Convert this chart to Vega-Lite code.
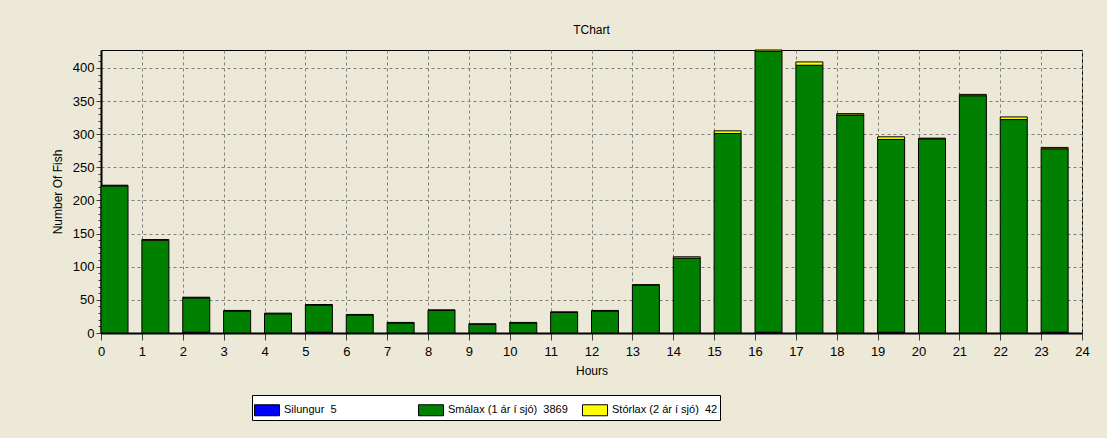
{
  "$schema": "https://vega.github.io/schema/vega-lite/v6.json",
  "width": 981,
  "height": 283,
  "autosize": {"type": "none"},
  "padding": {"left": 101, "top": 50, "right": 25, "bottom": 105},
  "background": "#ECE9D8",
  "title": {"text": "TChart", "fontSize": 12, "font": "Liberation Sans", "fontWeight": "normal", "color": "#000000", "offset": 12},
  "config": {
    "view": {"stroke": "#000000", "strokeWidth": 1, "fill": "#ECE9D8"}
  },
  "data": {"values": [
    {"hour": 0, "species": "Smálax (1 ár í sjó)", "n": 222},
    {"hour": 1, "species": "Smálax (1 ár í sjó)", "n": 140},
    {"hour": 2, "species": "Smálax (1 ár í sjó)", "n": 52},
    {"hour": 3, "species": "Smálax (1 ár í sjó)", "n": 33},
    {"hour": 4, "species": "Smálax (1 ár í sjó)", "n": 29},
    {"hour": 5, "species": "Smálax (1 ár í sjó)", "n": 41},
    {"hour": 6, "species": "Smálax (1 ár í sjó)", "n": 27},
    {"hour": 7, "species": "Smálax (1 ár í sjó)", "n": 15},
    {"hour": 8, "species": "Smálax (1 ár í sjó)", "n": 34},
    {"hour": 9, "species": "Smálax (1 ár í sjó)", "n": 13},
    {"hour": 10, "species": "Smálax (1 ár í sjó)", "n": 15},
    {"hour": 11, "species": "Smálax (1 ár í sjó)", "n": 31},
    {"hour": 12, "species": "Smálax (1 ár í sjó)", "n": 33},
    {"hour": 13, "species": "Smálax (1 ár í sjó)", "n": 72},
    {"hour": 14, "species": "Smálax (1 ár í sjó)", "n": 113},
    {"hour": 15, "species": "Smálax (1 ár í sjó)", "n": 301},
    {"hour": 16, "species": "Smálax (1 ár í sjó)", "n": 424},
    {"hour": 17, "species": "Smálax (1 ár í sjó)", "n": 404},
    {"hour": 18, "species": "Smálax (1 ár í sjó)", "n": 329},
    {"hour": 19, "species": "Smálax (1 ár í sjó)", "n": 291},
    {"hour": 20, "species": "Smálax (1 ár í sjó)", "n": 293},
    {"hour": 21, "species": "Smálax (1 ár í sjó)", "n": 358},
    {"hour": 22, "species": "Smálax (1 ár í sjó)", "n": 322},
    {"hour": 23, "species": "Smálax (1 ár í sjó)", "n": 277},
    {"hour": 0, "species": "Stórlax (2 ár í sjó)", "n": 1},
    {"hour": 1, "species": "Stórlax (2 ár í sjó)", "n": 1},
    {"hour": 2, "species": "Stórlax (2 ár í sjó)", "n": 1},
    {"hour": 3, "species": "Stórlax (2 ár í sjó)", "n": 1},
    {"hour": 4, "species": "Stórlax (2 ár í sjó)", "n": 1},
    {"hour": 5, "species": "Stórlax (2 ár í sjó)", "n": 1},
    {"hour": 6, "species": "Stórlax (2 ár í sjó)", "n": 1},
    {"hour": 7, "species": "Stórlax (2 ár í sjó)", "n": 1},
    {"hour": 8, "species": "Stórlax (2 ár í sjó)", "n": 1},
    {"hour": 9, "species": "Stórlax (2 ár í sjó)", "n": 1},
    {"hour": 10, "species": "Stórlax (2 ár í sjó)", "n": 1},
    {"hour": 11, "species": "Stórlax (2 ár í sjó)", "n": 1},
    {"hour": 12, "species": "Stórlax (2 ár í sjó)", "n": 1},
    {"hour": 13, "species": "Stórlax (2 ár í sjó)", "n": 1},
    {"hour": 14, "species": "Stórlax (2 ár í sjó)", "n": 2},
    {"hour": 15, "species": "Stórlax (2 ár í sjó)", "n": 4},
    {"hour": 16, "species": "Stórlax (2 ár í sjó)", "n": 2},
    {"hour": 17, "species": "Stórlax (2 ár í sjó)", "n": 5},
    {"hour": 18, "species": "Stórlax (2 ár í sjó)", "n": 2},
    {"hour": 19, "species": "Stórlax (2 ár í sjó)", "n": 4},
    {"hour": 20, "species": "Stórlax (2 ár í sjó)", "n": 1},
    {"hour": 21, "species": "Stórlax (2 ár í sjó)", "n": 2},
    {"hour": 22, "species": "Stórlax (2 ár í sjó)", "n": 4},
    {"hour": 23, "species": "Stórlax (2 ár í sjó)", "n": 2},
    {"hour": 2, "species": "Silungur", "n": 1},
    {"hour": 5, "species": "Silungur", "n": 1},
    {"hour": 16, "species": "Silungur", "n": 1},
    {"hour": 19, "species": "Silungur", "n": 1},
    {"hour": 23, "species": "Silungur", "n": 1}
  ]},
  "mark": {"type": "bar", "width": 27, "xOffset": 13.5, "stroke": "#000000", "strokeWidth": 1},
  "encoding": {
    "x": {"field": "hour", "type": "quantitative", "scale": {"domain": [0, 24], "nice": false, "zero": false, "padding": 0},
      "axis": {"orient": "bottom", "format": "d",
        "values": [0,0.25,0.5,0.75,1,1.25,1.5,1.75,2,2.25,2.5,2.75,3,3.25,3.5,3.75,4,4.25,4.5,4.75,5,5.25,5.5,5.75,6,6.25,6.5,6.75,7,7.25,7.5,7.75,8,8.25,8.5,8.75,9,9.25,9.5,9.75,10,10.25,10.5,10.75,11,11.25,11.5,11.75,12,12.25,12.5,12.75,13,13.25,13.5,13.75,14,14.25,14.5,14.75,15,15.25,15.5,15.75,16,16.25,16.5,16.75,17,17.25,17.5,17.75,18,18.25,18.5,18.75,19,19.25,19.5,19.75,20,20.25,20.5,20.75,21,21.25,21.5,21.75,22,22.25,22.5,22.75,23,23.25,23.5,23.75,24],
        "labelExpr": "datum.value % 1 == 0 ? datum.label : ''",
        "tickSize": {"expr": "datum.value % 1 == 0 ? 7 : 4"},
        "gridOpacity": {"expr": "datum.value % 1 == 0 ? 1 : 0"},
        "title": "Hours", "grid": true, "gridColor": "#808080", "gridDash": [3, 3], "domainColor": "#000000", "domainWidth": 2, "tickColor": "#404040",
        "labelPadding": 5, "titlePadding": 7, "labelFlush": false, "labelOverlap": false,
        "labelFont": "Liberation Sans", "labelFontSize": 13, "labelColor": "#000000",
        "titleFont": "Liberation Sans", "titleFontSize": 12, "titleFontWeight": "normal", "titleColor": "#000000"}},
    "y": {"aggregate": "sum", "field": "n", "type": "quantitative", "stack": "zero", "scale": {"domain": [0, 427], "nice": false, "padding": 0},
      "axis": {"orient": "left", "format": "d",
        "values": [0,10,20,30,40,50,60,70,80,90,100,110,120,130,140,150,160,170,180,190,200,210,220,230,240,250,260,270,280,290,300,310,320,330,340,350,360,370,380,390,400,410,420],
        "labelExpr": "datum.value % 50 == 0 ? datum.label : ''",
        "tickSize": {"expr": "datum.value % 50 == 0 ? 5 : 3"},
        "gridOpacity": {"expr": "datum.value % 50 == 0 ? 1 : 0"},
        "title": "Number Of Fish", "grid": true, "gridColor": "#808080", "gridDash": [3, 3], "domainColor": "#000000", "domainWidth": 2, "tickColor": "#404040",
        "labelPadding": 2, "titlePadding": 8, "labelOverlap": false,
        "labelFont": "Liberation Sans", "labelFontSize": 13, "labelColor": "#000000",
        "titleFont": "Liberation Sans", "titleFontSize": 12, "titleFontWeight": "normal", "titleColor": "#000000"}},
    "order": {"field": "species", "sort": "ascending"},
    "color": {"field": "species", "type": "nominal",
      "scale": {"domain": ["Silungur", "Smálax (1 ár í sjó)", "Stórlax (2 ár í sjó)"], "range": ["#0000FF", "#008000", "#FFFF00"]},
      "legend": {"title": null, "orient": "none", "legendX": 151, "legendY": 345, "direction": "horizontal", "columns": 3, "gridAlign": "all", "columnPadding": 12,
        "fillColor": "#FFFFFF", "strokeColor": "#000000", "padding": 2,
        "symbolType": "M-1,-0.44H1V0.44H-1Z", "symbolSize": 625, "symbolStrokeColor": "#000000", "symbolStrokeWidth": 1, "symbolOpacity": 1,
        "labelFont": "Liberation Sans", "labelFontSize": 11, "labelColor": "#000000", "labelOffset": 4,
        "labelExpr": "datum.label == 'Silungur' ? 'Silungur\u00a0\u00a05' : datum.label == 'Smálax (1 ár í sjó)' ? 'Smálax (1 ár í sjó)\u00a0\u00a03869' : 'Stórlax (2 ár í sjó)\u00a0\u00a042'"}}
  }
}
